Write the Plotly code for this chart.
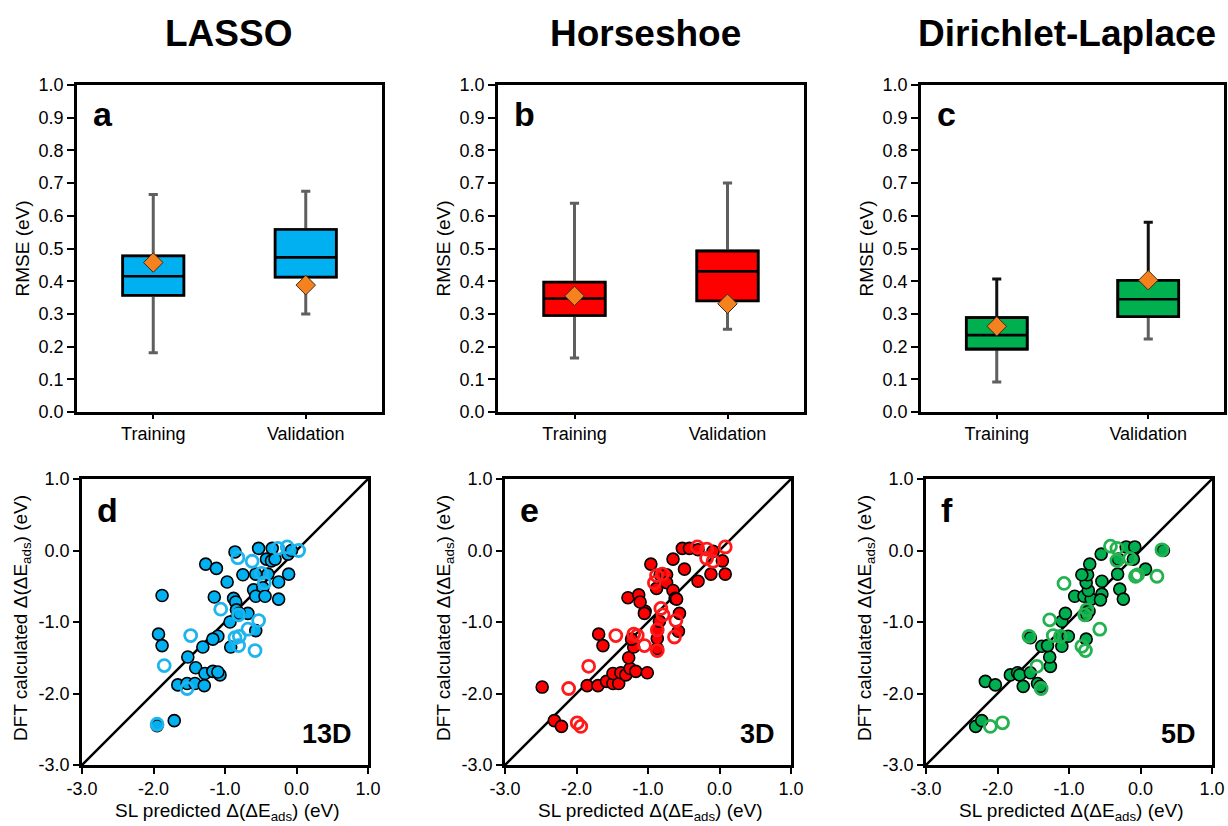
import plotly.graph_objects as go

W, H = 1228, 826

# ---------------- data ----------------
categories = ["Training", "Validation"]

lasso_lower = [0.181, 0.300]
lasso_q1 = [0.357, 0.413]
lasso_median = [0.415, 0.473]
lasso_q3 = [0.477, 0.558]
lasso_upper = [0.665, 0.675]
lasso_mean = [0.457, 0.388]

hs_lower = [0.165, 0.253]
hs_q1 = [0.295, 0.340]
hs_median = [0.347, 0.430]
hs_q3 = [0.397, 0.492]
hs_upper = [0.638, 0.700]
hs_mean = [0.355, 0.331]

dl_lower = [0.092, 0.223]
dl_q1 = [0.193, 0.292]
dl_median = [0.235, 0.345]
dl_q3 = [0.288, 0.402]
dl_upper = [0.407, 0.580]
dl_mean = [0.262, 0.403]

lasso_train_x = [-1.88, -1.27, -1.12, -0.86, -0.53, -0.34, -0.42, -0.35, -0.30, -0.12, -0.07,
                 -0.97, -0.75, -0.57, -0.40, -0.11, -0.25, -0.60, -0.47, -1.15, -0.57, -0.44,
                 -0.25, -0.88, -0.85, -0.84, -0.68, -0.80, -0.93, -0.57, -1.10, -1.17, -0.92,
                 -1.93, -1.88, -1.31, -1.52, -1.41, -1.28, -1.17, -1.07, -1.10, -1.66, -1.53,
                 -1.42, -1.29, -1.71, -1.95]
lasso_train_y = [-0.63, -0.19, -0.25, -0.02, 0.03, 0.03, -0.12, -0.145, -0.12, -0.05, 0.0,
                 -0.44, -0.34, -0.33, -0.33, -0.33, -0.44, -0.55, -0.52, -0.65, -0.64, -0.64,
                 -0.68, -0.67, -0.72, -0.83, -0.88, -0.88, -1.00, -1.12, -1.20, -1.24, -1.35,
                 -1.17, -1.33, -1.35, -1.49, -1.64, -1.72, -1.69, -1.74, -1.70, -1.88, -1.86,
                 -1.86, -1.89, -2.38, -2.45]
lasso_val_x = [-0.82, -0.62, -0.26, -0.13, 0.03, -0.49, -0.45, -1.06, -0.81, -0.53, -0.68,
               -1.48, -0.80, -0.86, -0.81, -0.58, -1.85, -1.53, -1.95]
lasso_val_y = [-0.10, -0.15, 0.03, 0.05, 0.0, -0.32, -0.45, -0.82, -0.90, -0.98, -1.10,
               -1.19, -1.20, -1.22, -1.33, -1.40, -1.61, -1.93, -2.43]

hs_train_x = [-2.48, -2.31, -2.21, -1.85, -1.70, -1.58, -1.49, -1.41, -1.49, -1.38, -1.31,
              -1.25, -1.17, -1.01, -1.27, -1.20, -1.23, -1.69, -1.63, -0.87, -0.87, -0.87,
              -0.84, -0.575, -0.56, -1.04, -1.28, -1.13, -1.11, -0.96, -0.88, -0.83, -0.74,
              -0.74, -0.65, -0.62, -0.60, -0.65, -0.49, -0.30, -0.12, 0.08, -0.52, -0.42,
              -0.30, -0.09, 0.04, -1.05]
hs_train_y = [-1.91, -2.38, -2.46, -1.89, -1.89, -1.83, -1.86, -1.86, -1.72, -1.71, -1.74,
              -1.65, -1.69, -1.71, -1.50, -1.35, -1.24, -1.17, -1.33, -1.37, -1.23, -1.11,
              -0.99, -1.13, -0.88, -0.85, -0.66, -0.62, -0.72, -0.19, -0.53, -0.34, -0.34,
              -0.45, -0.56, -0.67, -0.68, -0.12, -0.26, -0.43, -0.33, -0.33, 0.03, 0.03,
              0.01, -0.01, -0.145, -0.88]
hs_val_x = [-2.11, -1.99, -1.94, -1.83, -1.45, -1.15, -1.20, -1.05, -0.87, -0.87, -0.63,
            -0.61, -0.79, -0.82, -0.91, -0.88, -0.80, -0.31, -0.18, -0.18, -0.09, 0.08]
hs_val_y = [-1.93, -2.41, -2.46, -1.62, -1.19, -1.19, -1.17, -1.33, -1.40, -1.11, -1.21,
            -0.98, -0.90, -0.81, -0.45, -0.35, -0.33, 0.05, 0.02, -0.11, -0.15, 0.05]

dl_train_x = [-2.305, -2.22, -2.17, -2.03, -1.82, -1.72, -1.69, -1.64, -1.54, -1.44, -1.40,
              -1.26, -1.27, -1.38, -1.30, -1.54, -1.10, -1.11, -1.01, -1.10, -1.05, -0.76,
              -0.72, -0.92, -0.79, -0.69, -0.73, -0.76, -0.74, -0.82, -0.71, -0.55, -0.54,
              -0.54, -0.56, -0.32, -0.29, -0.24, -0.20, -0.08, -0.10, -0.31, 0.07, 0.32,
              -0.75]
dl_train_y = [-2.46, -2.38, -1.83, -1.88, -1.74, -1.71, -1.74, -1.90, -1.71, -1.86, -1.90,
              -1.62, -1.49, -1.34, -1.33, -1.22, -1.34, -1.20, -1.20, -0.99, -0.88, -1.24,
              -0.85, -0.64, -0.64, -0.68, -0.56, -0.45, -0.34, -0.34, -0.19, -0.05, -0.43,
              -0.61, -0.69, -0.33, -0.54, -0.68, 0.05, 0.05, -0.12, -0.12, -0.26, 0.00,
              -0.90]
dl_val_x = [-2.10, -1.93, -1.56, -1.45, -1.39, -1.27, -1.22, -1.07, -1.12, -0.82, -0.77,
            -0.57, -0.78, -0.75, -0.42, -0.33, -0.33, -0.15, -0.04, -0.07, 0.23, 0.30]
dl_val_y = [-2.46, -2.41, -1.20, -1.62, -1.93, -0.97, -1.19, -0.46, -1.20, -1.34, -1.40,
            -1.10, -0.90, -0.83, 0.06, 0.03, -0.14, -0.11, -0.34, -0.36, -0.36, 0.01]

parity_range = [-3.0, 1.0]
parity_tickvals = [-3.0, -2.0, -1.0, 0.0, 1.0]
parity_ticktext = ["-3.0", "-2.0", "-1.0", "0.0", "1.0"]
rmse_range = [0.0, 1.0]

methods = ["LASSO", "Horseshoe", "Dirichlet-Laplace"]
box_letters = ["a", "b", "c"]
scatter_letters = ["d", "e", "f"]
dims = ["13D", "3D", "5D"]

# ---------------- style ----------------
FONT = "Liberation Sans, Arial, sans-serif"
fill_colors = ["#00B0F0", "#FF0000", "#00B050"]
open_colors = ["#1EB4EE", "#FF1A1A", "#23B24F"]
whisker_gray = "#5F5F5F"
upper_whisker_colors = [whisker_gray, whisker_gray, "#111111"]
mean_color = "#F5821F"

# pixel frames (left, right, top, bottom)
box_frames = [(77, 382, 85, 412), (498, 804, 85, 412), (921, 1224, 85, 412)]
sc_frames = [(82, 368, 479, 765), (505, 791, 479, 765), (926, 1212, 479, 765)]
title_centers = [228, 645, 1067]

def px(x):
    return x / W

def py(y):
    return 1 - y / H

box_stats = [
    (lasso_lower, lasso_q1, lasso_median, lasso_q3, lasso_upper, lasso_mean),
    (hs_lower, hs_q1, hs_median, hs_q3, hs_upper, hs_mean),
    (dl_lower, dl_q1, dl_median, dl_q3, dl_upper, dl_mean),
]
scatter_data = [
    (lasso_train_x, lasso_train_y, lasso_val_x, lasso_val_y),
    (hs_train_x, hs_train_y, hs_val_x, hs_val_y),
    (dl_train_x, dl_train_y, dl_val_x, dl_val_y),
]

fig = go.Figure()
layout = dict(
    width=W, height=H, autosize=False,
    margin=dict(l=0, r=0, t=0, b=0, pad=0, autoexpand=False),
    paper_bgcolor="white", plot_bgcolor="white", showlegend=False,
    font=dict(family=FONT, size=18, color="black"),
)
annotations = []

BOXW = 0.4
for i in range(3):
    lo, q1, med, q3, up, mean = box_stats[i]
    xa, ya = f"x{i + 1}", f"y{i + 1}"
    # lower whisker (gray)
    fig.add_trace(go.Box(x=categories, q1=q1, median=q1, q3=q3, lowerfence=lo, upperfence=q3,
                         width=BOXW, whiskerwidth=0.15, fillcolor="white",
                         line=dict(color=whisker_gray, width=3), boxpoints=False,
                         xaxis=xa, yaxis=ya, hoverinfo="skip"))
    # upper whisker
    fig.add_trace(go.Box(x=categories, q1=q1, median=q1, q3=q3, lowerfence=q1, upperfence=up,
                         width=BOXW, whiskerwidth=0.15, fillcolor="white",
                         line=dict(color=upper_whisker_colors[i], width=3), boxpoints=False,
                         xaxis=xa, yaxis=ya, hoverinfo="skip"))
    # box
    fig.add_trace(go.Box(x=categories, q1=q1, median=med, q3=q3, lowerfence=q1, upperfence=q3,
                         width=BOXW, whiskerwidth=0.0, fillcolor=fill_colors[i],
                         line=dict(color="black", width=2.6), boxpoints=False,
                         xaxis=xa, yaxis=ya))
for i in range(3):
    lo, q1, med, q3, up, mean = box_stats[i]
    fig.add_trace(go.Scatter(x=categories, y=mean, mode="markers",
                             marker=dict(symbol="diamond", size=15, color=mean_color,
                                         line=dict(color="#3a2a1a", width=1)),
                             xaxis=f"x{i + 1}", yaxis=f"y{i + 1}"))

for i in range(3):
    tx, ty, vx, vy = scatter_data[i]
    xa, ya = f"x{i + 4}", f"y{i + 4}"
    fig.add_trace(go.Scatter(x=parity_range, y=parity_range, mode="lines",
                             line=dict(color="black", width=2.5), xaxis=xa, yaxis=ya))
    fig.add_trace(go.Scatter(x=tx, y=ty, mode="markers",
                             marker=dict(symbol="circle", size=12, color=fill_colors[i],
                                         line=dict(color="black", width=1.6)),
                             xaxis=xa, yaxis=ya))
    fig.add_trace(go.Scatter(x=vx, y=vy, mode="markers",
                             marker=dict(symbol="circle-open", size=12, color=open_colors[i],
                                         line=dict(color=open_colors[i], width=2.8)),
                             xaxis=xa, yaxis=ya))

axis_common = dict(showline=True, linecolor="black", linewidth=2.5, mirror=True,
                   showgrid=False, zeroline=False, ticks="outside", tickcolor="black",
                   tickwidth=2, automargin=False,
                   tickfont=dict(family=FONT, size=18, color="black"))

for i in range(3):
    l, r, t, b = box_frames[i]
    n = i + 1
    layout[f"xaxis{n}"] = dict(axis_common, domain=[px(l), px(r)], anchor=f"y{n}",
                               type="category", categoryorder="array",
                               categoryarray=categories, range=[-0.5, 1.5], ticklen=4)
    layout[f"yaxis{n}"] = dict(axis_common, domain=[py(b), py(t)], anchor=f"x{n}",
                               range=rmse_range, dtick=0.1, tick0=0, tickformat=".1f",
                               ticklen=7)
    annotations.append(dict(text="<b>%s</b>" % methods[i], xref="paper", yref="paper",
                            x=px(title_centers[i]), y=py(34), showarrow=False,
                            font=dict(size=37, family=FONT), xanchor="center", yanchor="middle"))
    annotations.append(dict(text="<b>%s</b>" % box_letters[i], xref="paper", yref="paper",
                            x=px(l + 14), y=py(t + 8), showarrow=False,
                            font=dict(size=34, family=FONT), xanchor="left", yanchor="top"))
    annotations.append(dict(text="RMSE (eV)", xref="paper", yref="paper",
                            x=px(l - 55), y=py((t + b) / 2), showarrow=False, textangle=-90,
                            font=dict(size=19, family=FONT), xanchor="center", yanchor="middle"))

for i in range(3):
    l, r, t, b = sc_frames[i]
    n = i + 4
    layout[f"xaxis{n}"] = dict(axis_common, domain=[px(l), px(r)], anchor=f"y{n}",
                               range=parity_range, tickmode="array",
                               tickvals=parity_tickvals, ticktext=parity_ticktext, ticklen=6)
    layout[f"yaxis{n}"] = dict(axis_common, domain=[py(b), py(t)], anchor=f"x{n}",
                               range=parity_range, tickmode="array",
                               tickvals=parity_tickvals, ticktext=parity_ticktext, ticklen=6)
    annotations.append(dict(text="<b>%s</b>" % scatter_letters[i], xref="paper", yref="paper",
                            x=px(l + 13), y=py(t + 10), showarrow=False,
                            font=dict(size=34, family=FONT), xanchor="left", yanchor="top"))
    annotations.append(dict(text="<b>%s</b>" % dims[i], xref="paper", yref="paper",
                            x=px(r - 14), y=py(b - 14), showarrow=False,
                            font=dict(size=27, family=FONT), xanchor="right", yanchor="bottom"))
    annotations.append(dict(text="DFT calculated Δ(ΔE<sub>ads</sub>) (eV)", xref="paper",
                            yref="paper", x=px(l - 60), y=py((t + b) / 2 - 4), showarrow=False,
                            textangle=-90, font=dict(size=19, family=FONT),
                            xanchor="center", yanchor="middle"))
    annotations.append(dict(text="SL predicted Δ(ΔE<sub>ads</sub>) (eV)", xref="paper",
                            yref="paper", x=px((l + r) / 2 + 2), y=py(812), showarrow=False,
                            font=dict(size=19, family=FONT), xanchor="center", yanchor="middle"))

layout["annotations"] = annotations
fig.update_layout(**layout)
fig.write_html("out.html", config={"displayModeBar": False},
               post_script="document.body.style.margin='0px';")
